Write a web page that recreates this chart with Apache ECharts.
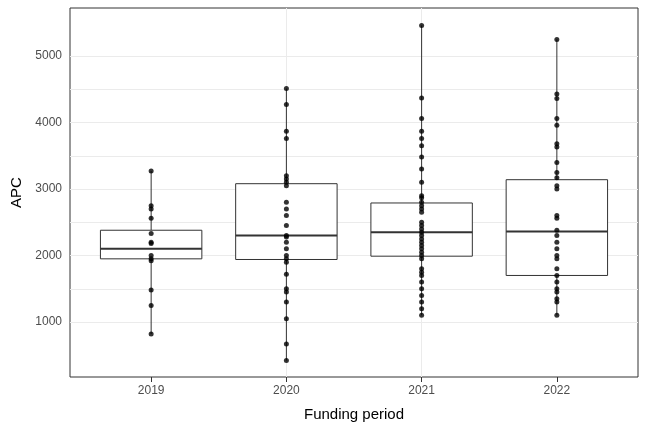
<!DOCTYPE html><html><head><meta charset="utf-8"><script src="https://cdn.jsdelivr.net/npm/echarts@6/dist/echarts.min.js"></script></head><body style="margin:0"><div id="c" style="width:648px;height:432px"></div><script>
const categories=['2019','2020','2021','2022'];
const boxStats=[[820,1950,2100,2380,3270],[420,1940,2300,3080,4510],[1100,1990,2350,2790,5460],[1100,1700,2360,3140,5250]];
const p2019=[3270,2750,2700,2560,2330,2200,2180,2000,1950,1920,1480,1250,820];
const p2020=[4510,4270,3870,3760,3200,3150,3100,3050,2800,2700,2600,2450,2300,2280,2200,2100,2000,1950,1900,1720,1500,1450,1300,1050,670,420];
const p2021=[5460,4370,4060,3870,3760,3650,3480,3300,3100,2900,2870,2800,2750,2700,2650,2500,2450,2400,2350,2300,2250,2200,2150,2100,2050,2000,1950,1800,1750,1700,1600,1500,1400,1300,1200,1100];
const p2022=[5250,4430,4360,4060,3960,3680,3630,3400,3250,3170,3050,3000,2600,2560,2380,2300,2200,2100,2000,1950,1800,1700,1600,1500,1450,1350,1300,1100];
const yTicks=[1000,2000,3000,4000,5000];
const yGrid=[500,1000,1500,2000,2500,3000,3500,4000,4500,5000,5500];
const groups=[p2019,p2020,p2021,p2022];
const pts=[];groups.forEach((g,i)=>g.forEach(v=>pts.push([i+1,v])));
const boxData=boxStats.map((b,i)=>[i+1].concat(b));
const font='Liberation Sans';
const ch=echarts.init(document.getElementById('c'));
ch.setOption({animation:false,
grid:{left:70,right:10,top:8,bottom:55,show:true,borderColor:'#333',borderWidth:1},
xAxis:{type:'value',min:0.4,max:4.6,name:'Funding period',nameLocation:'middle',nameGap:30,nameTextStyle:{fontFamily:font,fontSize:15,color:'#000'},
axisLine:{show:false},axisTick:{show:true,customValues:[1,2,3,4],lineStyle:{color:'#333'}},
axisLabel:{customValues:[1,2,3,4],formatter:v=>categories[Math.round(v)-1],fontFamily:font,fontSize:12,color:'#4d4d4d'},
splitLine:{show:true,showMinLine:false,showMaxLine:false,lineStyle:{color:'#ebebeb'}}},
yAxis:{type:'value',min:173,max:5722,name:'APC',nameLocation:'middle',nameGap:45,nameTextStyle:{fontFamily:font,fontSize:15,color:'#000'},
axisLine:{show:false},axisTick:{show:false,customValues:yGrid},axisLabel:{customValues:yTicks,formatter:v=>String(v),fontFamily:font,fontSize:12,color:'#4d4d4d'},
splitLine:{show:true,showMinLine:false,showMaxLine:false,lineStyle:{color:'#ebebeb'}}},
series:[
{type:'custom',data:boxData,z:2,renderItem:(p,api)=>{
 const x=api.value(0),hw=0.375;
 const c=v=>api.coord([x,v]);const L=api.coord([x-hw,0])[0],R=api.coord([x+hw,0])[0];
 const mn=c(api.value(1)),q1=c(api.value(2)),md=c(api.value(3)),q3=c(api.value(4)),mx=c(api.value(5));
 const st={stroke:'#333',lineWidth:1,fill:null};
 return {type:'group',children:[
  {type:'line',shape:{x1:mn[0],y1:mn[1],x2:q1[0],y2:q1[1]},style:st},
  {type:'line',shape:{x1:q3[0],y1:q3[1],x2:mx[0],y2:mx[1]},style:st},
  {type:'rect',shape:{x:L,y:q3[1],width:R-L,height:q1[1]-q3[1]},style:{stroke:'#333',lineWidth:1,fill:'#fff'}},
  {type:'line',shape:{x1:L,y1:md[1],x2:R,y2:md[1]},style:{stroke:'#333',lineWidth:2}}]};
}},
{type:'scatter',data:pts,symbolSize:5,itemStyle:{color:'#000'},z:4}]});
</script></body></html>
